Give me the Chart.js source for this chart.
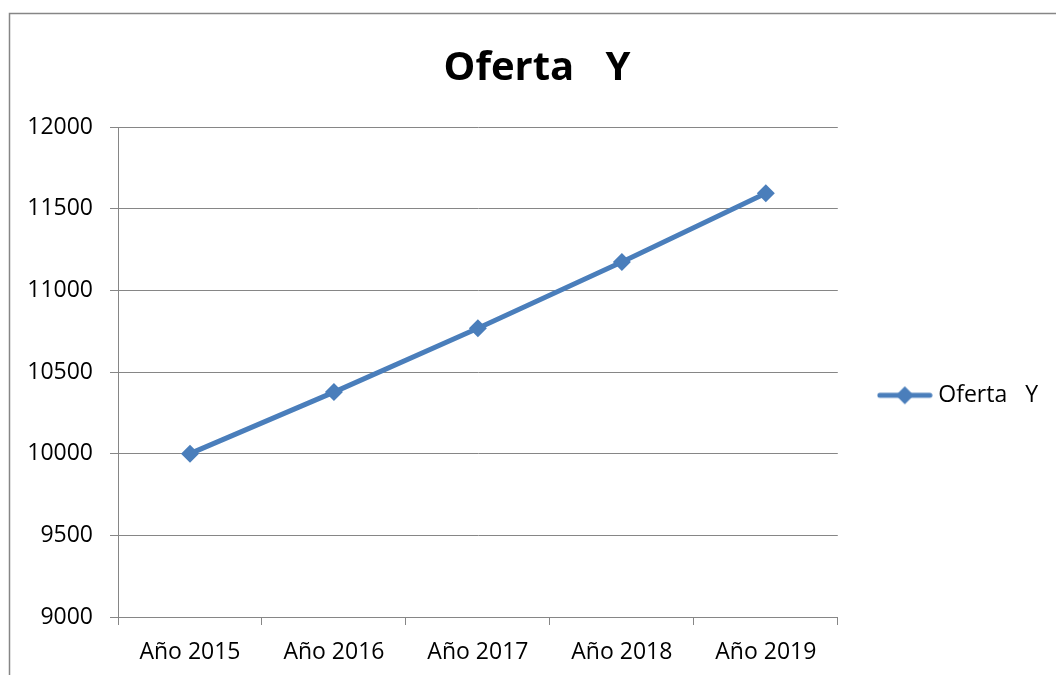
<!DOCTYPE html>
<html>
<head>
<meta charset="utf-8">
<script src="https://cdn.jsdelivr.net/npm/chart.js@4/dist/chart.umd.min.js"></script>
<style>
  html, body { margin: 0; padding: 0; background: #fff; }
  #wrap { width: 1056px; height: 675px; }
</style>
</head>
<body>
<div id="wrap"><canvas id="chart"></canvas></div>
<script>
// data
const years = ["Año 2015", "Año 2016", "Año 2017", "Año 2018", "Año 2019"];
const oferta = [10000, 10377, 10768, 11174, 11595];
const seriesName = "Oferta   Y";
const titleText = "Oferta   Y";

const blue = "#4A7EBB";
const gray = "#868686";
const font = "'Open Sans', 'Noto Sans', sans-serif";

// legend marker: line with a diamond in the middle
const marker = document.createElement("canvas");
marker.width = 56;
marker.height = 20;
(() => {
    const c = marker.getContext("2d");
    c.strokeStyle = blue;
    c.lineWidth = 5;
    c.lineCap = "round";
    c.beginPath();
    c.moveTo(3, 10);
    c.lineTo(53, 10);
    c.stroke();
    c.fillStyle = blue;
    c.beginPath();
    c.moveTo(28, 1);
    c.lineTo(37, 10);
    c.lineTo(28, 19);
    c.lineTo(19, 10);
    c.closePath();
    c.fill();
})();

// outer frame of the chart object
const framePlugin = {
    id: "frame",
    beforeDraw(chart) {
        const ctx = chart.ctx;
        ctx.save();
        ctx.fillStyle = "#fff";
        ctx.fillRect(0, 0, chart.width, chart.height);
        ctx.strokeStyle = gray;
        ctx.lineWidth = 1.5;
        ctx.strokeRect(9.5, 13.5, 1200, 800);
        ctx.restore();
    }
};

new Chart(document.getElementById("chart"), {
    type: "line",
    data: {
        labels: years,
        datasets: [{
            label: seriesName,
            data: oferta,
            borderColor: blue,
            backgroundColor: blue,
            borderWidth: 5,
            pointStyle: "rectRot",
            pointRadius: 9,
            pointHoverRadius: 9,
            pointBorderWidth: 0,
            tension: 0
        }]
    },
    options: {
        responsive: true,
        maintainAspectRatio: false,
        animation: false,
        layout: { padding: { left: 26, right: 8, top: 0, bottom: 0 } },
        plugins: {
            title: {
                display: true,
                text: titleText,
                color: "#000",
                font: { family: font, size: 40, weight: "bold" },
                padding: { top: 45, bottom: 34 }
            },
            legend: {
                position: "right",
                title: {
                    // blank title, only pushes the entry down to where the reference has it
                    display: true,
                    text: " ",
                    font: { family: font, size: 23 },
                    padding: { top: 0, bottom: 88 }
                },
                labels: {
                    color: "#000",
                    font: { family: font, size: 23 },
                    usePointStyle: true,
                    pointStyleWidth: 44,
                    padding: 45,
                    generateLabels: (chart) => [{
                        text: seriesName,
                        fontColor: "#000",
                        hidden: false,
                        pointStyle: marker,
                        fillStyle: blue,
                        strokeStyle: blue,
                        lineWidth: 0,
                        datasetIndex: 0
                    }]
                }
            },
            tooltip: { enabled: false }
        },
        scales: {
            x: {
                offset: true,
                afterFit: (scale) => { scale.height = 58; },
                grid: {
                    offset: true,
                    drawOnChartArea: false,
                    drawTicks: true,
                    tickLength: 8,
                    color: gray
                },
                border: { color: gray, width: 1 },
                ticks: {
                    color: "#000",
                    font: { family: font, size: 23 },
                    padding: 14,
                    maxRotation: 0
                }
            },
            y: {
                min: 9000,
                max: 12000,
                afterFit: (scale) => { scale.width = 92; },
                grid: { color: gray, tickLength: 8 },
                border: { color: gray, width: 1 },
                ticks: {
                    stepSize: 500,
                    color: "#000",
                    font: { family: font, size: 23 },
                    padding: 17,
                    callback: (v) => String(v)
                }
            }
        }
    },
    plugins: [framePlugin]
});
</script>
</body>
</html>
